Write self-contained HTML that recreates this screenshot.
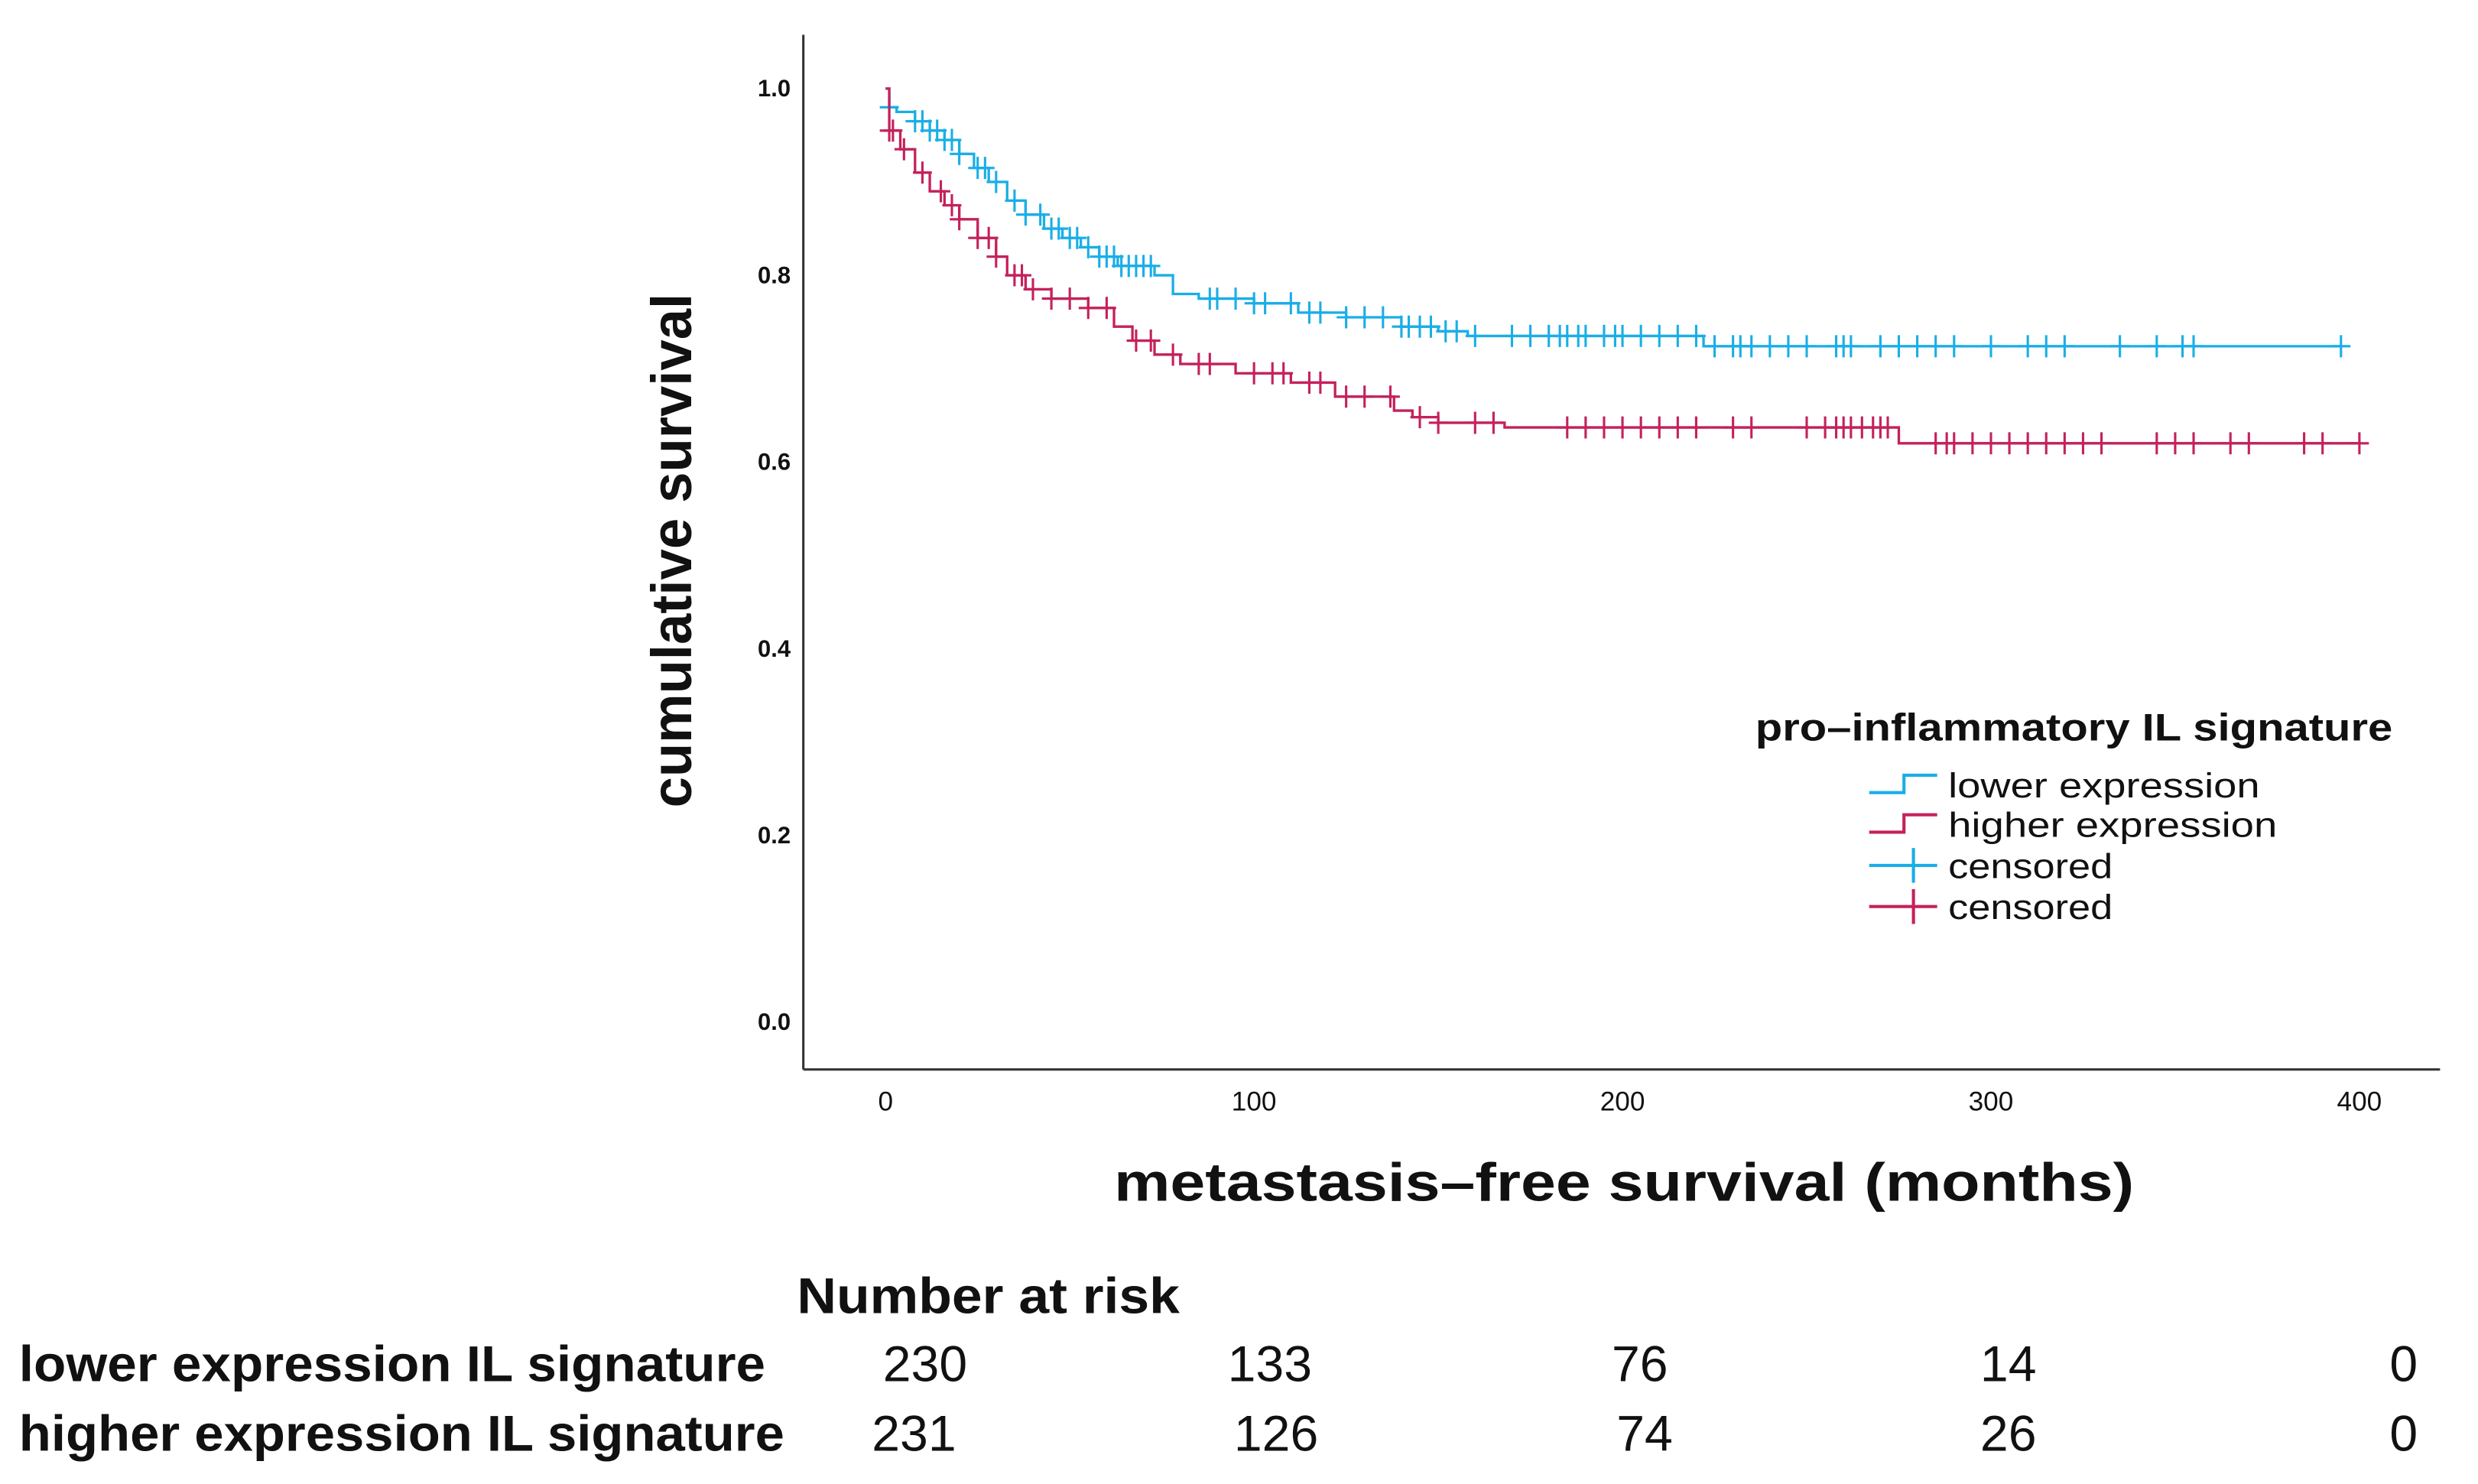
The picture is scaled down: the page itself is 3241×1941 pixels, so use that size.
<!DOCTYPE html>
<html><head><meta charset="utf-8"><style>
html,body{margin:0;padding:0;background:#fff;}
svg{display:block;}
text{font-family:"Liberation Sans Narrow","Liberation Sans",sans-serif;font-weight:bold;fill:#111;}
</style></head><body>
<svg id="chart" width="3241" height="1941" viewBox="0 0 1567 938" preserveAspectRatio="none" xmlns="http://www.w3.org/2000/svg">
<g id="axes">
<line x1="508" y1="22" x2="508" y2="676" stroke="#333" stroke-width="1.5"/>
<line x1="508" y1="676" x2="1543" y2="676" stroke="#333" stroke-width="1.5"/>
</g>
<g id="yticks"></g>
<g id="xticks"></g>
<text transform="translate(437,348) rotate(-90)" text-anchor="middle" font-size="36" textLength="325" lengthAdjust="spacingAndGlyphs">cumulative survival</text>
<text x="1027" y="759" text-anchor="middle" font-size="34" textLength="645" lengthAdjust="spacingAndGlyphs">metastasis–free survival (months)</text>
<g id="series"></g>
<g>
<text x="1110" y="468" font-size="24" textLength="403" lengthAdjust="spacingAndGlyphs">pro–inflammatory IL signature</text>
<g><path d="M1182,501 H1204 V490 H1225" fill="none" stroke="#1aaee6" stroke-width="2"/><text x="1232" y="504" font-size="22" style="font-weight:normal" textLength="197" lengthAdjust="spacingAndGlyphs">lower expression</text></g>
<g><path d="M1182,526 H1204 V515 H1225" fill="none" stroke="#c4215c" stroke-width="2"/><text x="1232" y="529" font-size="22" style="font-weight:normal" textLength="208" lengthAdjust="spacingAndGlyphs">higher expression</text></g>
<g><path d="M1182,547 H1225 M1210,536 V558" fill="none" stroke="#1aaee6" stroke-width="2"/><text x="1232" y="555" font-size="22" style="font-weight:normal" textLength="104" lengthAdjust="spacingAndGlyphs">censored</text></g>
<g><path d="M1182,573 H1225 M1210,562 V584" fill="none" stroke="#c4215c" stroke-width="2"/><text x="1232" y="581" font-size="22" style="font-weight:normal" textLength="104" lengthAdjust="spacingAndGlyphs">censored</text></g>
</g>
<g>
<text x="504" y="830" font-size="32" textLength="242" lengthAdjust="spacingAndGlyphs">Number at risk</text>
<text x="12" y="873" font-size="32" textLength="472" lengthAdjust="spacingAndGlyphs">lower expression IL signature</text>
<text x="12" y="917" font-size="32" textLength="484" lengthAdjust="spacingAndGlyphs">higher expression IL signature</text>
<g id="risknums"></g>
</g>
</svg>
<script>
const yTicks=[0,0.2,0.4,0.6,0.8,1.0];
const xTicks=[0,100,200,300,400];
const lowerTimes=[0,1,3,8,12,16,20,24,28,33,38,43,48,53,58,63,73,78,85,100,112,125,140,150,158,222];
const lowerSurv=[1.0,0.98,0.975,0.965,0.955,0.945,0.93,0.915,0.90,0.88,0.865,0.85,0.84,0.83,0.82,0.81,0.80,0.78,0.775,0.77,0.76,0.755,0.745,0.74,0.735,0.724];
const lowerEnd=395;
const higherTimes=[0,1,4,8,12,16,20,25,30,33,38,45,55,62,67,73,80,95,110,122,138,143,150,168,275];
const higherSurv=[1.0,0.955,0.935,0.91,0.89,0.875,0.86,0.84,0.82,0.80,0.785,0.775,0.765,0.745,0.73,0.715,0.705,0.695,0.685,0.67,0.655,0.648,0.642,0.637,0.62];
const higherEnd=400;
const lowerCensor=[1,8,10,12,14,16,18,20,25,27,30,35,38,42,45,47,50,52,55,58,60,62,64,66,68,70,72,88,90,95,100,103,110,115,118,125,130,135,140,142,145,148,152,155,160,170,175,180,183,185,188,190,195,198,200,205,210,215,220,225,230,232,235,240,245,250,258,260,262,270,275,280,285,290,300,310,315,320,335,345,352,355,395];
const higherCensor=[1,2,5,10,15,18,20,25,28,30,35,37,40,45,50,55,60,68,72,78,85,88,100,105,108,115,118,125,130,137,145,150,160,165,185,190,195,200,205,210,215,220,230,235,250,255,258,260,262,265,268,270,272,285,288,290,295,300,305,310,315,320,325,330,345,350,355,365,370,385,390,400];
const riskLower=[230,133,76,14,0];
const riskHigher=[231,126,74,26,0];

const NS="http://www.w3.org/2000/svg";
function xs(t){return 560+t*2.33;}
function ys(v){return 646-v*590;}
function mk(tag,attrs,parent){const e=document.createElementNS(NS,tag);for(const k in attrs)e.setAttribute(k,attrs[k]);parent.appendChild(e);return e;}
const yt=document.getElementById('yticks');
yTicks.forEach(v=>{const t=mk('text',{x:500,y:ys(v)+5,'text-anchor':'end','font-size':15},yt);


t.textContent=v.toFixed(1);});
const xt=document.getElementById('xticks');
xTicks.forEach(v=>{const t=mk('text',{x:xs(v),y:702,'text-anchor':'middle','font-size':17,style:'font-weight:normal'},xt);


t.textContent=v;});
function survAt(times,surv,t){let s=surv[0];for(let i=0;i<times.length;i++){if(times[i]<=t)s=surv[i];}return s;}
function drawSeries(times,surv,end,cens,color,name){
const g=document.getElementById('series');
let d='M'+xs(times[0])+','+ys(surv[0]);
for(let i=1;i<times.length;i++){d+=' H'+xs(times[i])+' V'+ys(surv[i]);}
d+=' H'+xs(end);
const p=mk('path',{d:d,fill:'none',stroke:color,'stroke-width':1.6},g);


cens.forEach(t=>{const x=xs(t),y=ys(survAt(times,surv,t));
const c=mk('path',{d:'M'+(x-6)+','+y+' H'+(x+6)+' M'+x+','+(y-7)+' V'+(y+7),stroke:color,'stroke-width':1.5,fill:'none'},g);

});
}
drawSeries(lowerTimes,lowerSurv,lowerEnd,lowerCensor,'#1aaee6','lower-expression');
drawSeries(higherTimes,higherSurv,higherEnd,higherCensor,'#c4215c','higher-expression');
const rn=document.getElementById('risknums');
const colX1=[585,803,1037,1270,1520],colX2=[578,807,1040,1270,1520];
riskLower.forEach((v,i)=>{const t=mk('text',{x:colX1[i],y:873,'text-anchor':'middle','font-size':32,style:'font-weight:normal'},rn);


t.textContent=v;});
riskHigher.forEach((v,i)=>{const t=mk('text',{x:colX2[i],y:917,'text-anchor':'middle','font-size':32,style:'font-weight:normal'},rn);


t.textContent=v;});
</script>
</body></html>
